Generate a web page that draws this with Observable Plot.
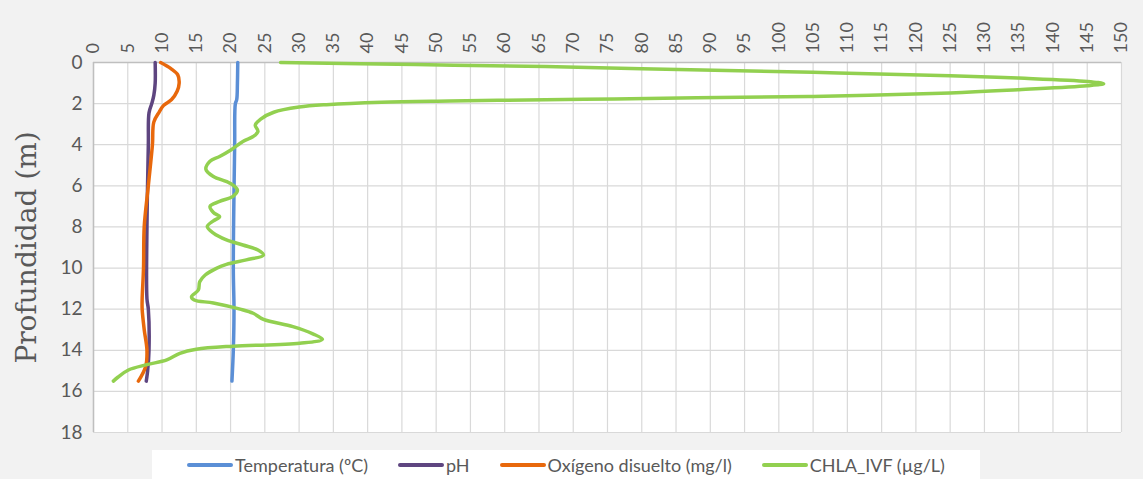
<!DOCTYPE html>
<html>
<head>
<meta charset="utf-8">
<script src="https://cdn.jsdelivr.net/npm/d3@7"></script>
<script src="https://cdn.jsdelivr.net/npm/@observablehq/plot@0.6"></script>
<style>
  html, body { margin: 0; padding: 0; background: #f2f2f2; }
  #wrap { position: relative; width: 1143px; height: 479px; overflow: hidden; background: #f2f2f2; }
  #chart svg { display: block; }
  #legend { position: absolute; left: 152px; top: 450px; width: 828px; height: 29px; background: #fff;
    display: flex; justify-content: center; align-items: center; gap: 30px;
    font-family: Lato, "Open Sans", sans-serif; font-size: 18px; color: #595959; }
  .item { display: flex; align-items: center; white-space: nowrap; }
  .sw { width: 46px; height: 4px; border-radius: 2px; margin-right: 2px; }
</style>
</head>
<body>
<div id="wrap">
  <div id="chart"></div>
  <div id="legend"></div>
</div>
<script>
// ---- data ----
const seriesNames = ["Temperatura (ºC)", "pH", "Oxígeno disuelto (mg/l)", "CHLA_IVF (µg/L)"];
const seriesColors = ["#5b8fd6", "#5e4580", "#e8680c", "#92d050"];

const tempDepth = [0, 1, 1.8, 2, 4, 10, 12, 14, 15.5];
const tempValue = [21.05, 21.0, 20.9, 20.7, 20.6, 20.4, 20.5, 20.4, 20.2];

const phDepth = [0, 1.0, 1.6, 2.0, 2.45, 4, 8, 11.5, 12, 14, 15, 15.5];
const phValue = [9.0, 9.0, 8.8, 8.5, 8.1, 8.0, 7.8, 7.8, 8.0, 8.1, 7.9, 7.7];

const oxDepth = [0, 0.3, 0.6, 1.0, 1.4, 1.8, 2.1, 2.4, 2.9, 4.0, 6.0, 8.0, 10.0, 11.5, 12.0, 13.0, 14.0, 14.8, 15.5];
const oxValue = [9.8, 11.3, 12.3, 12.5, 12.2, 11.4, 10.2, 9.6, 8.8, 8.6, 8.0, 7.4, 7.3, 7.1, 7.1, 7.4, 7.8, 7.6, 6.55];

const chlaDepth = [0.0, 0.1, 0.2, 0.3, 0.48, 0.65, 0.76, 0.92, 1.03, 1.13, 1.32, 1.48, 1.65, 1.72, 1.77, 1.81, 1.87, 1.93, 2.05, 2.17, 2.42, 2.75, 3.05, 3.35, 3.6, 3.84, 4.24, 4.57, 4.8, 5.2, 5.55, 5.87, 6.2, 6.5, 6.76, 7.0, 7.3, 7.5, 7.7, 7.98, 8.3, 8.63, 8.88, 9.12, 9.37, 9.6, 9.82, 10.0, 10.34, 10.67, 11.07, 11.4, 11.55, 11.7, 12.0, 12.2, 12.5, 12.85, 13.2, 13.46, 13.66, 13.8, 13.95, 14.15, 14.47, 14.7, 14.96, 15.3, 15.5];
const chlaValue = [27.3, 47, 66, 80, 105, 125, 135, 145, 147.4, 145, 135, 125, 105, 88, 76, 66, 52, 42, 34, 30, 26.3, 24.4, 23.6, 24, 23.3, 21.8, 20.1, 18.4, 17, 16.4, 17.5, 19.9, 21, 20.4, 18.4, 17, 17.5, 18.4, 17.5, 16.6, 17.5, 19.4, 21.8, 24, 24.8, 22.3, 19.4, 18, 16.3, 15.5, 15.3, 14.3, 14.7, 17.5, 21.4, 23.3, 24.8, 29.1, 32, 33.4, 30.1, 20.4, 15.0, 12.6, 10.7, 7.8, 5.1, 3.6, 2.9];

const xTicks = [0, 5, 10, 15, 20, 25, 30, 35, 40, 45, 50, 55, 60, 65, 70, 75, 80, 85, 90, 95, 100, 105, 110, 115, 120, 125, 130, 135, 140, 145, 150];
const yTicks = [0, 2, 4, 6, 8, 10, 12, 14, 16, 18];
const yLabel = "Profundidad (m)";

// ---- build rows ----
const toRows = (depths, values, s) => depths.map((d, i) => ({depth: d, value: values[i], series: s}));
const series = [
  toRows(tempDepth, tempValue, seriesNames[0]),
  toRows(phDepth, phValue, seriesNames[1]),
  toRows(oxDepth, oxValue, seriesNames[2]),
  toRows(chlaDepth, chlaValue, seriesNames[3])
];

const lineMarks = series.map((rows, i) =>
  Plot.line(rows, {x: "value", y: "depth", stroke: seriesColors[i], strokeWidth: 3.5, curve: "catmull-rom", strokeLinecap: "round"})
);

const chart = Plot.plot({
  width: 1143,
  height: 445,
  marginTop: 62,
  marginBottom: 13,
  marginLeft: 93,
  marginRight: 22,
  style: {background: "transparent", fontFamily: "Lato, 'Open Sans', sans-serif", color: "#595959"},
  x: {domain: [0, 150]},
  y: {domain: [0, 18], reverse: true},
  marks: [
    Plot.frame({fill: "white", stroke: "none"}),
    Plot.gridX(xTicks, {stroke: "#d9d9d9", strokeOpacity: 1, strokeWidth: 1.2}),
    Plot.gridY(yTicks, {stroke: "#d9d9d9", strokeOpacity: 1, strokeWidth: 1.2}),
    Plot.ruleX([0], {stroke: "#bfbfbf", strokeWidth: 1.5}),
    Plot.ruleY([0], {stroke: "#bfbfbf", strokeWidth: 1.5}),
    Plot.axisX(xTicks, {anchor: "top", tickSize: 0, tickPadding: 9, tickRotate: -90, fontSize: 18, label: null, fill: "#595959"}),
    Plot.axisY(yTicks, {anchor: "left", tickSize: 0, tickPadding: 11, fontSize: 19, label: null, fill: "#595959"}),
    Plot.text([yLabel], {frameAnchor: "left", textAnchor: "middle", rotate: -90, dx: -66, fontSize: 28, fontFamily: "'DejaVu Serif', serif", fill: "#595959"}),
    ...lineMarks
  ]
});
document.getElementById("chart").appendChild(chart);

// ---- legend ----
const legend = document.getElementById("legend");
seriesNames.forEach((name, i) => {
  const item = document.createElement("div");
  item.className = "item";
  const sw = document.createElement("span");
  sw.className = "sw";
  sw.style.background = seriesColors[i];
  const t = document.createElement("span");
  t.textContent = name;
  item.appendChild(sw);
  item.appendChild(t);
  legend.appendChild(item);
});
</script>
</body>
</html>
